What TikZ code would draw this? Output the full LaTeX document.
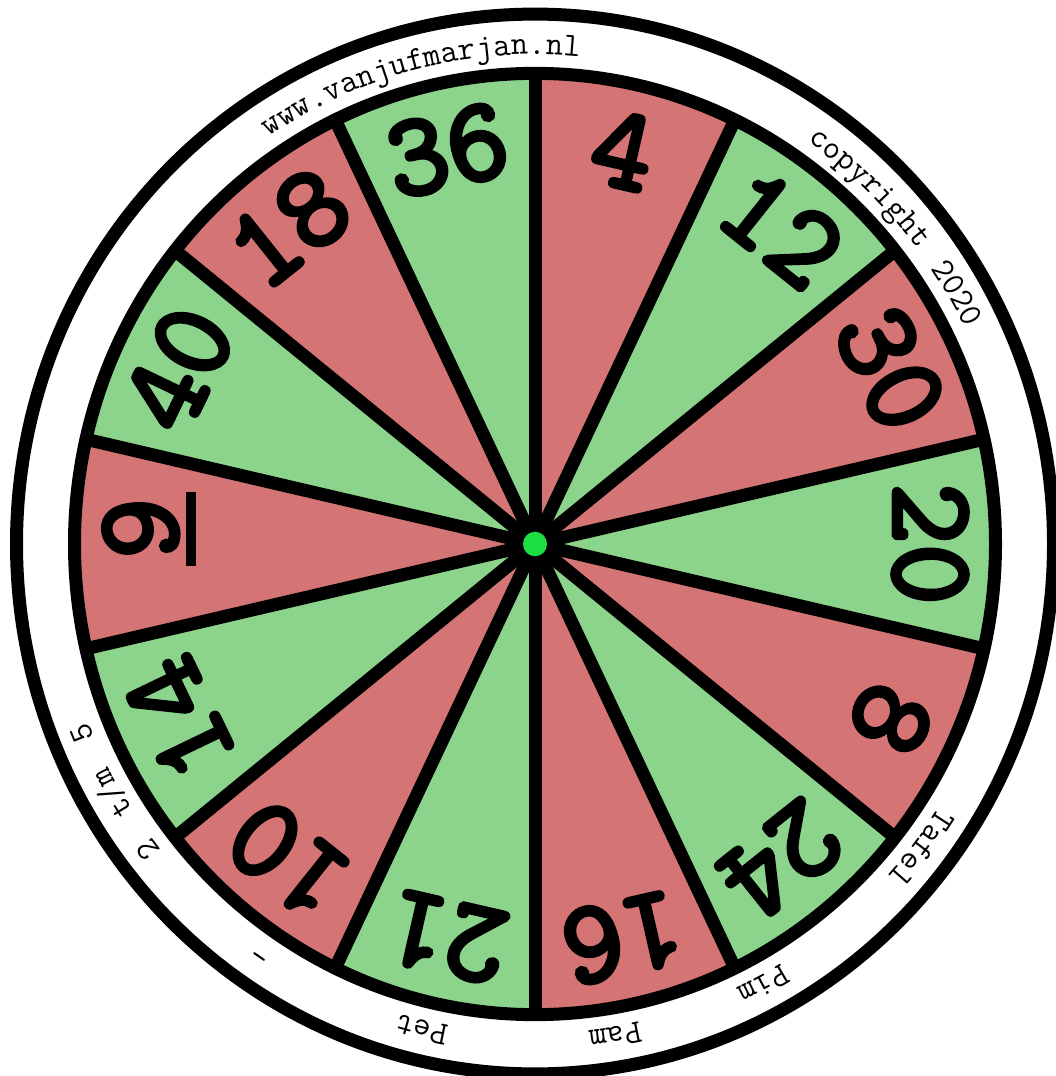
\documentclass[tikz,border=0pt]{standalone}
\usepackage{fontspec}
\setmainfont{Liberation Mono}
\newfontfamily\rimfont{Latin Modern Mono}
\newfontfamily\rimwidefont{Latin Modern Mono}[WordSpace=1.35]
\newfontfamily\numfont{Latin Modern Mono}[FakeBold=4]
\usetikzlibrary{decorations.text}

\definecolor{wheelred}{RGB}{212,116,116}
\definecolor{wheelgreen}{RGB}{140,212,140}
\definecolor{dotgreen}{RGB}{30,222,70}

\newcommand\rimtext[3]{%
  \path[decorate, decoration={text along path, text={|#2|#3}, text align=center}]
    ({#1+40}:479) arc[start angle={#1+40}, end angle={#1-40}, radius=479];
}

\begin{document}
\begin{tikzpicture}[x=1pt,y=1pt,
  spoke/.style={line width=13pt, black},
  rimline/.style={line width=13pt, black},
  numlabel/.style={font=\numfont\fontsize{118}{118}\selectfont, inner sep=0pt},
]
\useasboundingbox (0,0) rectangle (1056,-1076);
\fill[white] (0,0) rectangle (1056,-1076);
\begin{scope}[shift={(535,-544)}, yscale=1.022]
  \coordinate (c) at (0,0);
  % sectors
  \foreach \i/\col in {0/wheelred,1/wheelgreen,2/wheelred,3/wheelgreen,4/wheelred,5/wheelgreen,6/wheelred,7/wheelgreen,8/wheelred,9/wheelgreen,10/wheelred,11/wheelgreen,12/wheelred,13/wheelgreen} {
    \pgfmathsetmacro\sa{90-\i*360/14}
    \pgfmathsetmacro\sb{\sa-360/14}
    \fill[\col] (c) -- (\sa:460.5) arc[start angle=\sa, end angle=\sb, radius=460.5] -- cycle;
  }
  % spokes
  \foreach \i in {0,...,13} {
    \pgfmathsetmacro\sa{90-\i*360/14}
    \coordinate (s\i) at (\sa:460.5);
    \draw[spoke] (c) -- (s\i);
  }
  % rims
  \draw[rimline] (c) circle[radius=460.5];
  \draw[rimline] (c) circle[radius=518.5];
  % hub
  \fill[dotgreen] (c) circle[radius=12];
  % numbers
  \foreach \i/\n in {0/4,1/12,2/30,3/20,4/8,5/24,6/16,7/21,8/10,9/14,11/40,12/18,13/36} {
    \pgfmathsetmacro\m{90-(\i+0.5)*360/14}
    \node[numlabel, rotate=\m-90] (n\i) at (\m:395) {\n};
  }
  \node[numlabel, rotate=90, text depth=0pt] (n10) at (180:395)
    {9\hspace{-31pt}\makebox[0pt]{\rule[-19pt]{74pt}{10pt}}\hspace{31pt}};
  % rim texts
  \rimtext{104.1}{\rimfont\fontsize{33.5}{34}\selectfont}{www.vanjufmarjan.nl}
  \rimtext{41}{\rimfont\fontsize{33.5}{34}\selectfont}{copyright 2020}
  \rimtext{-37.9}{\rimfont\fontsize{33.5}{34}\selectfont}{Tafel}
  \rimtext{-62.3}{\rimfont\fontsize{33.5}{34}\selectfont}{Pim}
  \rimtext{-80.6}{\rimfont\fontsize{33.5}{34}\selectfont}{Pam}
  \rimtext{-103.3}{\rimfont\fontsize{33.5}{34}\selectfont}{Pet}
  \rimtext{-124}{\rimfont\fontsize{33.5}{34}\selectfont}{-}
  \rimtext{-149.8}{\rimwidefont\fontsize{33.5}{34}\selectfont}{2 t/m 5}
\end{scope}
\end{tikzpicture}
\end{document}
